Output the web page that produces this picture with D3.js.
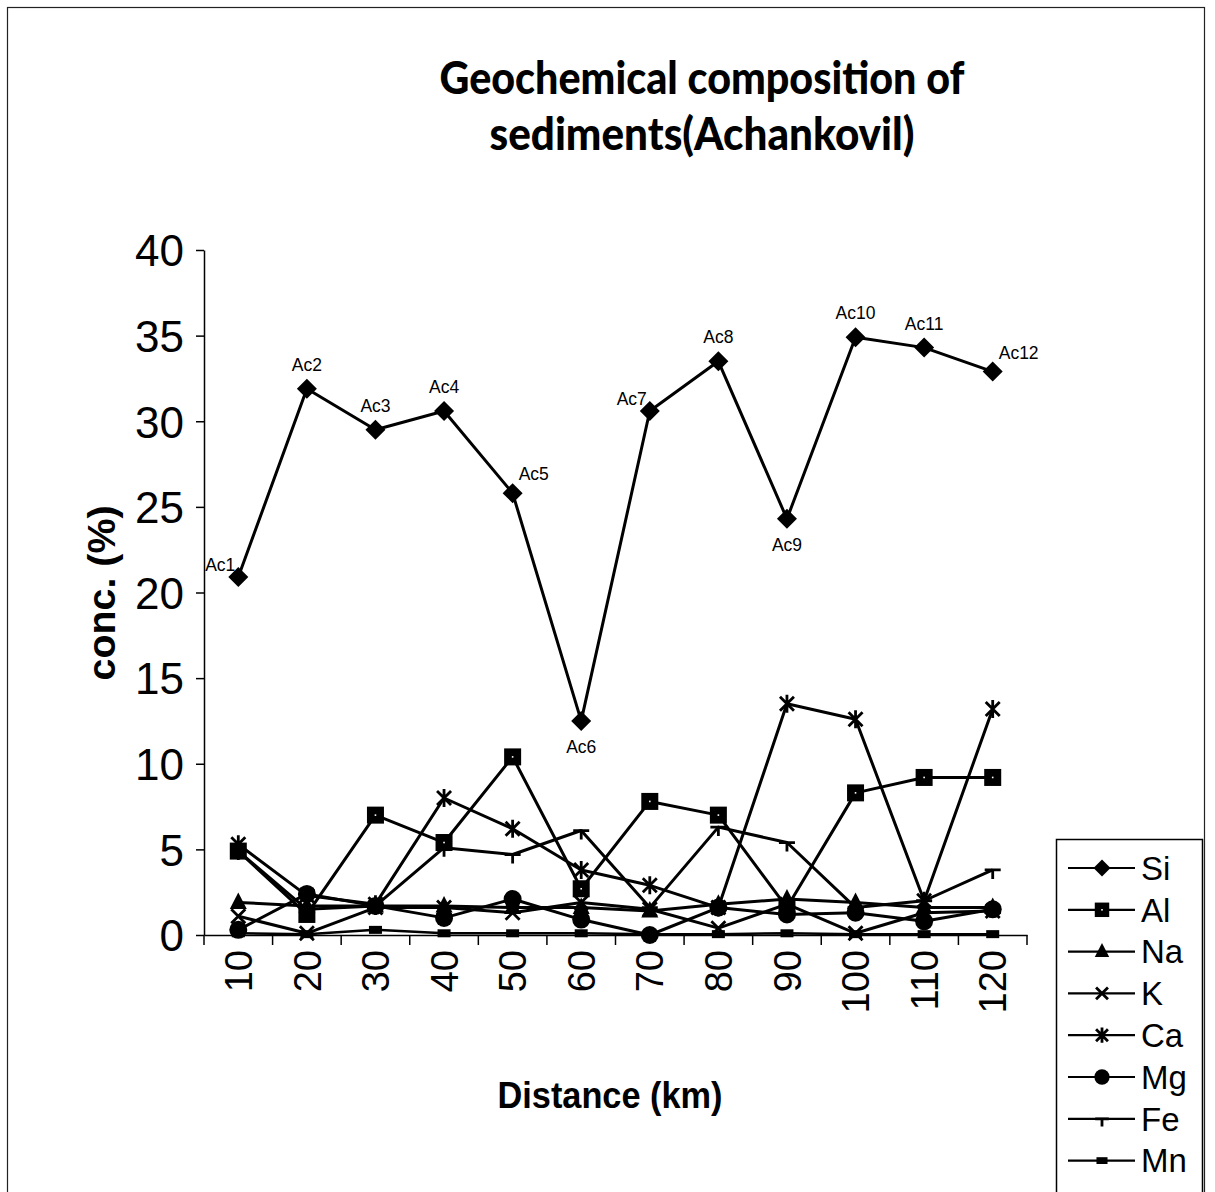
<!DOCTYPE html>
<html>
<head>
<meta charset="utf-8">
<script src="https://cdn.jsdelivr.net/npm/d3@7"></script>
<style>
  html, body { margin: 0; padding: 0; background: #fff; }
  svg { display: block; }
</style>
</head>
<body>
<svg id="chart" width="1215" height="1192"></svg>
<script>
// ---------- data ----------
const categories = ["10","20","30","40","50","60","70","80","90","100","110","120"];
const siLabels   = ["Ac1","Ac2","Ac3","Ac4","Ac5","Ac6","Ac7","Ac8","Ac9","Ac10","Ac11","Ac12"];
const labelPlacement = ["left","above","above","above","right","below","left","above","below","above","above","right"];
const si = [20.9, 31.9, 29.5, 30.6, 25.8, 12.5, 30.6, 33.5, 24.3, 34.9, 34.3, 32.9];
const al = [4.9, 1.2, 7.0, 5.4, 10.4, 2.7, 7.8, 7.0, 1.6, 8.3, 9.2, 9.2];
const na = [1.9, 1.7, 1.7, 1.7, 1.6, 1.6, 1.4, 1.8, 2.1, 1.9, 1.6, 1.6];
const k  = [1.1, 0.1, 1.6, 1.6, 1.3, 1.9, 1.5, 0.4, 1.8, 0.1, 1.3, 1.4];
const ca = [5.3, 2.3, 1.8, 8.0, 6.2, 3.8, 2.9, 1.6, 13.5, 12.6, 2.0, 13.2];
const mg = [0.3, 2.4, 1.7, 1.0, 2.1, 0.9, 0.0, 1.6, 1.2, 1.3, 0.8, 1.5];
const fe = [4.9, 1.5, 1.7, 5.1, 4.7, 6.1, 1.6, 6.3, 5.4, 1.6, 2.0, 3.8];
const mn = [0.1, 0.05, 0.3, 0.1, 0.1, 0.1, 0.05, 0.05, 0.1, 0.05, 0.05, 0.05];
const seriesNames = ["Si","Al","Na","K","Ca","Mg","Fe","Mn"];
const seriesValues = [si, al, na, k, ca, mg, fe, mn];
const seriesMarkers = ["diamond","square","triangle","x","star","circle","tee","dash"];
const yTicks = [0, 5, 10, 15, 20, 25, 30, 35, 40];
const titleLines = ["Geochemical composition of", "sediments(Achankovil)"];
const xTitle = "Distance (km)";
const yTitle = "conc. (%)";

// ---------- layout ----------
const svg = d3.select("#chart");
const plot = { left: 204, right: 1027, top: 250, bottom: 935 };
const x = d3.scaleBand().domain(categories).range([plot.left, plot.right]).padding(0);
const y = d3.scaleLinear().domain([0, 40]).range([plot.bottom, plot.top]);
const cx = c => x(c) + x.bandwidth() / 2;
const FONT = "'Liberation Sans', Arial, sans-serif";

// outer frame
svg.append("rect").attr("x", 7.5).attr("y", 7.5).attr("width", 1197).attr("height", 1200)
  .attr("fill", "none").attr("stroke", "#222").attr("stroke-width", 1.2);

// title
svg.append("text").attr("x", 702).attr("y", 94).attr("text-anchor", "middle")
  .attr("font-family", "Lato, 'Open Sans', sans-serif").attr("font-weight", 900)
  .attr("font-size", 45).attr("textLength", 525).attr("lengthAdjust", "spacingAndGlyphs")
  .text(titleLines[0]);
svg.append("text").attr("x", 702).attr("y", 150).attr("text-anchor", "middle")
  .attr("font-family", "Lato, 'Open Sans', sans-serif").attr("font-weight", 900)
  .attr("font-size", 45).attr("textLength", 425).attr("lengthAdjust", "spacingAndGlyphs")
  .text(titleLines[1]);

// y axis
const yAxis = svg.append("g").attr("transform", `translate(${plot.left},0)`)
  .call(d3.axisLeft(y).tickValues(yTicks).tickSize(8).tickSizeOuter(0).tickPadding(12));
yAxis.select(".domain").attr("stroke", "#000").attr("stroke-width", 1.5);
yAxis.selectAll(".tick line").attr("stroke", "#000").attr("stroke-width", 1.5);
yAxis.selectAll(".tick text").attr("font-family", FONT).attr("font-size", 44).attr("fill", "#000")
  .attr("dy", "0.36em");

// x axis (labels at category centres)
const xAxis = svg.append("g").attr("transform", `translate(0,${plot.bottom})`)
  .call(d3.axisBottom(x).tickSize(0).tickSizeOuter(0));
xAxis.select(".domain").attr("stroke", "#000").attr("stroke-width", 1.5);
xAxis.selectAll(".tick text")
  .attr("font-family", FONT).attr("font-size", 38).attr("fill", "#000")
  .attr("transform", "rotate(-90)").attr("x", -15).attr("y", 0).attr("dy", "0.36em")
  .attr("text-anchor", "end");
// boundary ticks
const boundaries = categories.map(c => x(c)).concat([x.range()[1]]);
svg.append("g").selectAll("line").data(boundaries).join("line")
  .attr("x1", d => d).attr("x2", d => d).attr("y1", plot.bottom).attr("y2", plot.bottom + 10)
  .attr("stroke", "#000").attr("stroke-width", 1.5);

// axis titles
svg.append("text").attr("x", 610).attr("y", 1108).attr("text-anchor", "middle")
  .attr("font-family", FONT).attr("font-weight", 700).attr("font-size", 37)
  .attr("textLength", 225).attr("lengthAdjust", "spacingAndGlyphs").text(xTitle);
svg.append("text").attr("transform", "translate(115,593) rotate(-90)").attr("text-anchor", "middle")
  .attr("font-family", FONT).attr("font-weight", 700).attr("font-size", 38)
  .attr("textLength", 175).attr("lengthAdjust", "spacingAndGlyphs").text(yTitle);

// marker drawing
function drawMarker(g, type, scale) {
  const s = scale || 1;
  if (type === "diamond") {
    g.append("path").attr("d", `M0,${-10*s}L${10*s},0L0,${10*s}L${-10*s},0Z`).attr("fill", "#000");
  } else if (type === "square") {
    g.append("rect").attr("x", -8.5*s).attr("y", -8.5*s).attr("width", 17*s).attr("height", 17*s).attr("fill", "#000");
    g.append("rect").attr("x", -0.8).attr("y", -0.8).attr("width", 1.6).attr("height", 1.6).attr("fill", "#fff");
  } else if (type === "triangle") {
    g.append("path").attr("d", `M0,${-10*s}L${8.5*s},${6.5*s}L${-8.5*s},${6.5*s}Z`).attr("fill", "#000");
  } else if (type === "x") {
    g.append("path").attr("d", `M${-7*s},${-7*s}L${7*s},${7*s}M${-7*s},${7*s}L${7*s},${-7*s}`)
      .attr("stroke", "#000").attr("stroke-width", 2.8).attr("fill", "none");
  } else if (type === "star") {
    g.append("path").attr("d", `M${-7*s},${-7*s}L${7*s},${7*s}M${-7*s},${7*s}L${7*s},${-7*s}M0,${-9*s}L0,${9*s}`)
      .attr("stroke", "#000").attr("stroke-width", 2.8).attr("fill", "none");
  } else if (type === "circle") {
    g.append("circle").attr("r", 9*s).attr("fill", "#000");
  } else if (type === "tee") {
    g.append("path").attr("d", `M${-8*s},0L${8*s},0M0,0L0,${9*s}`)
      .attr("stroke", "#000").attr("stroke-width", 2.8).attr("fill", "none");
  } else if (type === "dash") {
    g.append("rect").attr("x", -6.5*s).attr("y", -4*s).attr("width", 13*s).attr("height", 8*s).attr("fill", "#000");
  }
}

// series lines
const line = d3.line().x((d, i) => cx(categories[i])).y(d => y(d));
const seriesG = svg.append("g");
seriesValues.forEach((vals, si_) => {
  seriesG.append("path").datum(vals).attr("d", line)
    .attr("fill", "none").attr("stroke", "#000")
    .attr("stroke-width", seriesNames[si_] === "Mn" ? 2.5 : 3)
    .attr("stroke-linejoin", "round");
});
seriesValues.forEach((vals, si_) => {
  vals.forEach((v, i) => {
    const g = seriesG.append("g").attr("transform", `translate(${cx(categories[i])},${y(v)})`);
    drawMarker(g, seriesMarkers[si_]);
  });
});

// Si data labels
const lblG = svg.append("g").attr("font-family", FONT).attr("font-size", 17.5).attr("fill", "#000");
si.forEach((v, i) => {
  const px = cx(categories[i]), py = y(v);
  const p = labelPlacement[i];
  let tx = px, ty = py, anchor = "middle";
  if (p === "above") { ty = py - 18; }
  else if (p === "below") { ty = py + 32; }
  else if (p === "left") { tx = px - 3; ty = py - 6; anchor = "end"; }
  else if (p === "right") { tx = px + 6; ty = py - 13; anchor = "start"; }
  lblG.append("text").attr("x", tx).attr("y", ty).attr("text-anchor", anchor).text(siLabels[i]);
});

// legend
const legend = svg.append("g");
legend.append("rect").attr("x", 1056.5).attr("y", 839.5).attr("width", 146).attr("height", 400)
  .attr("fill", "#fff").attr("stroke", "#000").attr("stroke-width", 1.5);
seriesNames.forEach((name, i) => {
  const ly = 868 + i * 41.8;
  const g = legend.append("g").attr("transform", `translate(0,${ly})`);
  g.append("line").attr("x1", 1068).attr("x2", 1135).attr("y1", 0).attr("y2", 0)
    .attr("stroke", "#000").attr("stroke-width", 2.2);
  const mg_ = g.append("g").attr("transform", "translate(1102,0)");
  drawMarker(mg_, seriesMarkers[i], 0.85);
  g.append("text").attr("x", 1141).attr("y", 0).attr("dy", "0.36em")
    .attr("font-family", FONT).attr("font-size", 33).attr("fill", "#000").text(name);
});
</script>
</body>
</html>
